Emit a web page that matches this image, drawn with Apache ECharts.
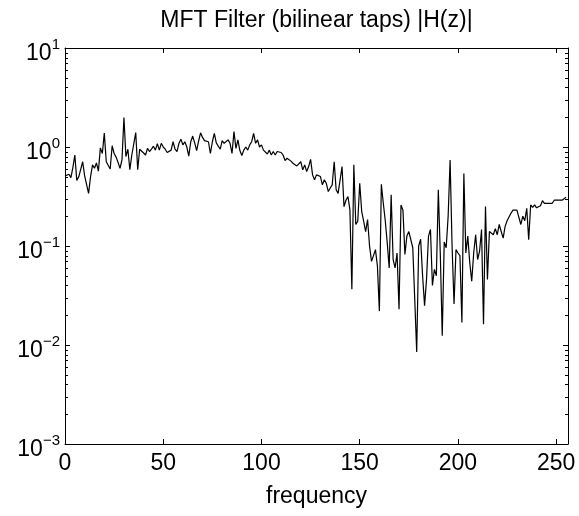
<!DOCTYPE html>
<html><head><meta charset="utf-8">
<script src="https://cdn.jsdelivr.net/npm/echarts@6/dist/echarts.min.js"></script>
<style>html,body{margin:0;padding:0;background:#fff}#c{width:579px;height:516px}</style>
</head><body><div id="c"></div>
<script>
const titleText = 'MFT Filter (bilinear taps) |H(z)|';
const xAxisName = 'frequency';
const xMin = 0, xMax = 256;
const yMin = 0.001, yMax = 10;
const xTickValues = [0, 50, 100, 150, 200, 250];
const minorMantissas = [2, 3, 4, 5, 6, 7, 8, 9];
const minorDecades = [0.001, 0.01, 0.1, 1];
// |H(z)|, one value per frequency bin 0..255
const magnitude = [
  0.51, 0.51, 0.53, 0.49, 0.62, 0.83, 0.46, 0.50, 0.50, 0.71,
  0.51, 0.49, 0.34, 0.50, 0.66, 0.61, 0.69, 0.57, 0.98, 0.86,
  1.38, 0.71, 0.69, 0.60, 1.03, 0.86, 0.79, 0.70, 0.61, 0.74,
  1.99, 0.80, 0.95, 0.59, 0.83, 0.86, 1.40, 0.59, 0.95, 0.91,
  0.87, 0.83, 0.97, 0.90, 0.95, 1.02, 0.93, 1.08, 0.93, 1.09,
  1.00, 0.95, 0.88, 0.90, 0.93, 1.13, 0.95, 0.90, 1.09, 1.20,
  1.05, 1.13, 1.00, 0.81, 1.13, 1.29, 1.10, 0.92, 1.15, 1.39,
  1.25, 1.16, 1.20, 1.13, 0.86, 1.13, 1.37, 1.10, 1.09, 0.95,
  1.16, 1.09, 1.06, 1.18, 1.09, 0.86, 1.43, 0.97, 1.18, 0.92,
  0.82, 0.93, 1.00, 0.93, 1.05, 1.13, 1.37, 1.09, 1.18, 1.00,
  1.05, 0.93, 0.97, 0.85, 0.93, 0.83, 0.90, 0.83, 0.90, 0.92,
  0.88, 0.83, 0.73, 0.77, 0.74, 0.72, 0.685, 0.695, 0.644, 0.634,
  0.71, 0.587, 0.66, 0.565, 0.634, 0.75, 0.523, 0.466, 0.523, 0.503,
  0.503, 0.415, 0.466, 0.43, 0.355, 0.385, 0.415, 0.71, 0.37, 0.34,
  0.33, 0.634, 0.25, 0.29, 0.316, 0.233, 0.0365, 0.66, 0.165, 0.178,
  0.43, 0.224, 0.178, 0.14, 0.185, 0.10, 0.07, 0.08, 0.092, 0.063,
  0.022, 0.42, 0.27, 0.18, 0.108, 0.06, 0.33, 0.073, 0.06, 0.085,
  0.023, 0.26, 0.23, 0.082, 0.126, 0.14, 0.135, 0.096, 0.029, 0.0085,
  0.10, 0.117, 0.05, 0.025, 0.046, 0.126, 0.147, 0.04, 0.058, 0.05,
  0.37, 0.085, 0.0124, 0.11, 0.096, 0.20, 0.74, 0.10, 0.026, 0.092,
  0.085, 0.08, 0.0169, 0.54, 0.085, 0.126, 0.068, 0.044, 0.085, 0.13,
  0.073, 0.089, 0.147, 0.0162, 0.25, 0.046, 0.14, 0.135, 0.13, 0.15,
  0.13, 0.165, 0.14, 0.12, 0.158, 0.18, 0.185, 0.215, 0.23, 0.236,
  0.23, 0.225, 0.165, 0.20, 0.18, 0.24, 0.116, 0.26, 0.246, 0.26,
  0.243, 0.25, 0.255, 0.287, 0.27, 0.26, 0.27, 0.28, 0.27, 0.29,
  0.28, 0.29, 0.30, 0.29, 0.30, 0.31
];
const frequency = magnitude.map((_, i) => i);

const FONT = "'Liberation Sans', Arial, Helvetica, sans-serif";
const chart = echarts.init(document.getElementById('c'), null, {renderer: 'canvas'});

const minorTicks = [];
minorDecades.forEach(d => minorMantissas.forEach(m => minorTicks.push([xMin, +(m * d).toPrecision(3)])));

function logLabel(v) {
  const e = Math.round(Math.log10(v));
  return '{b|10}{s|' + (e < 0 ? '\u2212' + (-e) : e) + '}';
}
const tickStyle = {color: '#000', width: 1};
const baseX = {
  type: 'value', min: xMin, max: xMax,
  axisLine: {show: true, onZero: false, lineStyle: tickStyle},
  axisTick: {show: true, inside: true, length: 5, customValues: xTickValues, lineStyle: tickStyle},
  splitLine: {show: false}
};
const baseY = {
  type: 'log', logBase: 10, min: yMin, max: yMax,
  axisLine: {show: true, onZero: false, lineStyle: tickStyle},
  axisTick: {show: true, inside: true, length: 5, lineStyle: tickStyle},
  splitLine: {show: false}, minorTick: {show: false}
};

chart.setOption({
  animation: false,
  backgroundColor: '#fff',
  textStyle: {fontFamily: FONT},
  grid: {left: 65, right: 11, top: 48, bottom: 72, containLabel: false},
  xAxis: [
    Object.assign({}, baseX, {
      position: 'bottom',
      axisLabel: {show: true, customValues: xTickValues, color: '#000', fontSize: 23, fontFamily: FONT, margin: 8},
      name: xAxisName, nameLocation: 'middle', nameGap: 41,
      nameTextStyle: {color: '#000', fontSize: 23, fontFamily: FONT}
    }),
    Object.assign({}, baseX, {
      position: 'top',
      axisLabel: {show: false},
      name: titleText, nameLocation: 'middle', nameGap: 16,
      nameTextStyle: {color: '#000', fontSize: 23, fontFamily: FONT}
    })
  ],
  yAxis: [
    Object.assign({}, baseY, {
      position: 'left',
      axisLabel: {
        show: true, margin: 5, formatter: logLabel,
        rich: {
          b: {fontSize: 23, color: '#000', fontFamily: FONT, verticalAlign: 'bottom', padding: [12, 0, 0, 0]},
          s: {fontSize: 15, color: '#000', fontFamily: FONT, verticalAlign: 'bottom', padding: [0, 0, 13, 0]}
        }
      }
    }),
    Object.assign({}, baseY, {position: 'right', axisLabel: {show: false}})
  ],
  series: [
    {
      type: 'line', xAxisIndex: 0, yAxisIndex: 0,
      data: frequency.map((f, i) => [f, magnitude[i]]),
      showSymbol: false, symbol: 'none', clip: true,
      lineStyle: {color: '#000', width: 1.2}
    },
    {
      type: 'custom', xAxisIndex: 0, yAxisIndex: 0, silent: true, clip: false,
      data: minorTicks,
      encode: {x: 0, y: 1},
      renderItem: function (params, api) {
        const v = api.value(1);
        const pL = api.coord([xMin, v]);
        const pR = api.coord([xMax, v]);
        const y = Math.round(pL[1]) + 0.5;
        return {
          type: 'group',
          children: [
            {type: 'line', shape: {x1: pL[0], y1: y, x2: pL[0] + 3, y2: y}, style: {stroke: '#000', lineWidth: 1}},
            {type: 'line', shape: {x1: pR[0] - 3, y1: y, x2: pR[0], y2: y}, style: {stroke: '#000', lineWidth: 1}}
          ]
        };
      }
    }
  ]
});
</script>
</body></html>
